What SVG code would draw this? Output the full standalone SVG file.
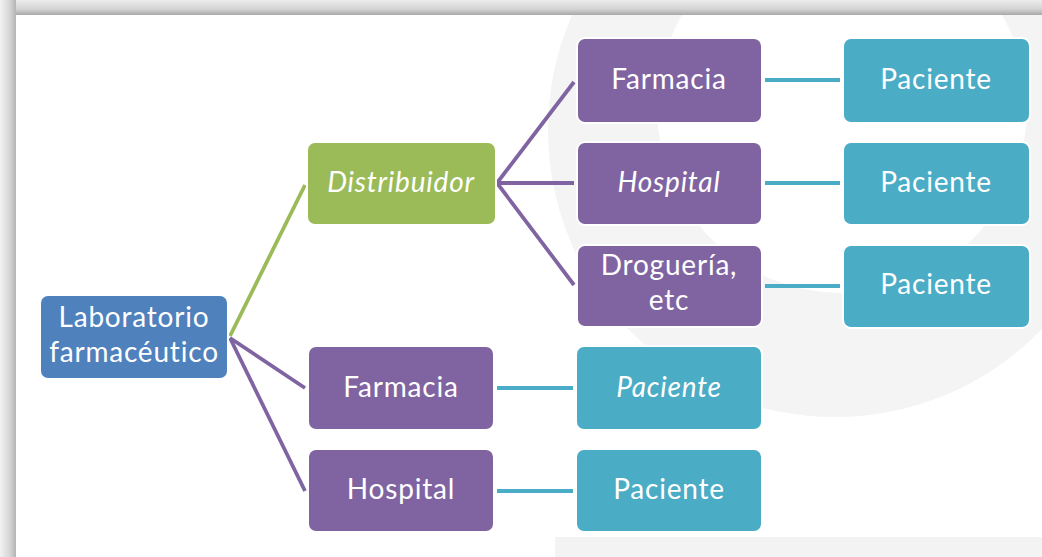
<svg xmlns="http://www.w3.org/2000/svg" width="1042" height="557" viewBox="0 0 1042 557">
  <defs>
    <linearGradient id="gTop" x1="0" y1="0" x2="0" y2="1">
      <stop offset="0" stop-color="#ececec"/>
      <stop offset="0.6" stop-color="#d4d4d4"/>
      <stop offset="1" stop-color="#a8a8a8"/>
    </linearGradient>
    <linearGradient id="gLeft" x1="0" y1="0" x2="1" y2="0">
      <stop offset="0" stop-color="#f2f2f2"/>
      <stop offset="0.6" stop-color="#d6d6d6"/>
      <stop offset="1" stop-color="#b4b4b4"/>
    </linearGradient>
  </defs>
  <style>
    .box { stroke: #ffffff; stroke-width: 2; }
    .blue { fill: #4f81bd; }
    .green { fill: #9bbb59; }
    .purple { fill: #8064a2; }
    .teal { fill: #4bacc6; }
    .lbl { font-family: Lato, "Open Sans", "Liberation Sans", sans-serif; font-size: 28px; letter-spacing: 0.8px; font-variant-ligatures: none; fill: #ffffff; text-anchor: middle; }
    .it { font-style: italic; }
    .c { fill: none; stroke-width: 3.8; stroke-linecap: butt; }
    .cg { stroke: #9bbb59; }
    .cp { stroke: #8064a2; }
    .ct { stroke: #4bacc6; }
  </style>

  <!-- background -->
  <rect x="0" y="0" width="1042" height="557" fill="#ffffff"/>
  <path d="M835,130 m-287,0 a287,287 0 1,0 574,0 a287,287 0 1,0 -574,0 Z M842,108 m-185,0 a185,185 0 1,1 370,0 a185,185 0 1,1 -370,0 Z" fill="#f4f4f4" fill-rule="evenodd"/>
  <rect x="555" y="537" width="487" height="20" fill="#f3f3f3"/>
  <rect x="0" y="0" width="1042" height="15" fill="url(#gTop)"/>
  <rect x="0" y="0" width="16" height="557" fill="url(#gLeft)"/>

  <!-- connectors -->
  <g id="connectors">
    <line class="c cg" x1="230" y1="336" x2="305" y2="185"/>
    <line class="c cp" x1="230" y1="338" x2="305" y2="388"/>
    <line class="c cp" x1="230" y1="338" x2="305" y2="491"/>
    <line class="c cp" x1="497" y1="183" x2="574" y2="82"/>
    <line class="c cp" x1="497" y1="183" x2="574" y2="183"/>
    <line class="c cp" x1="497" y1="183" x2="574" y2="285"/>
    <line class="c ct" x1="765" y1="80" x2="840" y2="80"/>
    <line class="c ct" x1="765" y1="183" x2="840" y2="183"/>
    <line class="c ct" x1="765" y1="286" x2="840" y2="286"/>
    <line class="c ct" x1="497" y1="388" x2="573" y2="388"/>
    <line class="c ct" x1="497" y1="491" x2="573" y2="491"/>
  </g>

  <g id="laboratorio">
    <rect class="box blue" x="40" y="295" width="188" height="84" rx="8"/>
    <text class="lbl" x="134" y="327">Laboratorio</text>
    <text class="lbl" x="134" y="362">farmacéutico</text>
  </g>
  <g id="distribuidor">
    <rect class="box green" x="307" y="142" width="189" height="83" rx="8"/>
    <text class="lbl it" x="401" y="192">Distribuidor</text>
  </g>
  <g id="farmacia1">
    <rect class="box purple" x="577" y="38" width="185" height="85" rx="8"/>
    <text class="lbl" x="669" y="89">Farmacia</text>
  </g>
  <g id="hospital1">
    <rect class="box purple" x="577" y="142" width="185" height="83" rx="8"/>
    <text class="lbl it" x="669" y="192">Hospital</text>
  </g>
  <g id="drogueria">
    <rect class="box purple" x="577" y="245" width="185" height="82" rx="8"/>
    <text class="lbl" x="669" y="275">Droguería,</text>
    <text class="lbl" x="669" y="310">etc</text>
  </g>
  <g id="paciente1">
    <rect class="box teal" x="843" y="38" width="187" height="85" rx="8"/>
    <text class="lbl" x="936" y="89">Paciente</text>
  </g>
  <g id="paciente2">
    <rect class="box teal" x="843" y="142" width="187" height="83" rx="8"/>
    <text class="lbl" x="936" y="192">Paciente</text>
  </g>
  <g id="paciente3">
    <rect class="box teal" x="843" y="245" width="187" height="83" rx="8"/>
    <text class="lbl" x="936" y="294">Paciente</text>
  </g>
  <g id="farmacia2">
    <rect class="box purple" x="308" y="346" width="186" height="84" rx="8"/>
    <text class="lbl" x="401" y="397">Farmacia</text>
  </g>
  <g id="hospital2">
    <rect class="box purple" x="308" y="449" width="186" height="83" rx="8"/>
    <text class="lbl" x="401" y="499">Hospital</text>
  </g>
  <g id="paciente4">
    <rect class="box teal" x="576" y="346" width="186" height="84" rx="8"/>
    <text class="lbl it" x="669" y="397">Paciente</text>
  </g>
  <g id="paciente5">
    <rect class="box teal" x="576" y="449" width="186" height="83" rx="8"/>
    <text class="lbl" x="669" y="499">Paciente</text>
  </g>
</svg>
